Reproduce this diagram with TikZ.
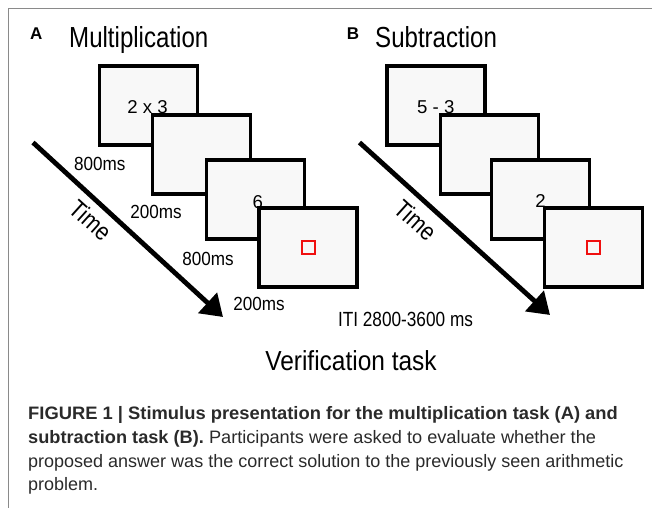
\documentclass[tikz,border=0pt]{standalone}
\usepackage{fontspec}
\setmainfont{Liberation Sans}
\usetikzlibrary{arrows.meta}
\definecolor{screenfill}{HTML}{F8F8F8}
\definecolor{framegray}{HTML}{8A8A8A}
\definecolor{captext}{HTML}{2A2A2A}
\definecolor{cuered}{HTML}{F01010}
\newcommand{\hsq}[2]{\scalebox{#1}[1]{#2}}
\begin{document}
\begin{tikzpicture}[x=1pt,y=-1pt,
  screen/.style={draw=black,line width=3.5pt,fill=screenfill,minimum width=98pt,minimum height=79pt,inner sep=0pt},
  cue/.style={draw=cuered,line width=1.8pt,minimum size=13pt,inner sep=0pt},
  stim/.style={font=\fontsize{18.6}{20}\selectfont,anchor=base,inner sep=0pt},
  dur/.style={font=\fontsize{19}{20}\selectfont,anchor=base,inner sep=0pt},
  panel/.style={font=\fontsize{17}{18}\selectfont\bfseries,anchor=base west,inner sep=0pt},
  task/.style={font=\fontsize{29}{30}\selectfont,anchor=base west,inner sep=0pt},
  timelabel/.style={font=\fontsize{25}{26}\selectfont,rotate=-42,inner sep=0pt},
  timearrow/.style={line width=4.8pt,-{Triangle[length=21pt,width=27pt]}},
  caption/.style={font=\fontsize{18}{19}\selectfont,anchor=base west,inner sep=0pt,text=captext},
]
\useasboundingbox (0,0) rectangle (652,508);
% frame lines along the top and left edge
\draw[framegray,line width=1pt] (652,8.5) -- (8.5,8.5) -- (8.5,508);

% ---------- panel A: multiplication ----------
\node[panel] (pa) at (30,39.5) {A};
\node[task] (ta) at (69,47.5) {\hsq{0.83}{Multiplication}};

\node[screen] (a1) at (148.5,105.5) {};
\node[stim] (a1t) at (147.5,113.5) {2 x 3};
\node[screen] (a2) at (201.3,154.5) {};
\node[screen] (a3) at (255.3,199.5) {};
\node[stim] (a3t) at (257.8,208) {6};
\node[screen] (a4) at (308.1,247.5) {};
\node[cue] (a4c) at (a4.center) {};

\node[dur] (ad1) at (99.7,170) {\hsq{0.9}{800ms}};
\node[dur] (ad2) at (156,218.3) {\hsq{0.9}{200ms}};
\node[dur] (ad3) at (208,265) {\hsq{0.9}{800ms}};
\node[dur] (ad4) at (259,310) {\hsq{0.9}{200ms}};

\coordinate (aT0) at (33,142.5);
\coordinate (aT1) at (223,317);
\draw[timearrow] (aT0) -- (aT1);
\node[timelabel] (atime) at (91,220) {\hsq{0.85}{Time}};

% ---------- panel B: subtraction ----------
\node[panel] (pb) at (346.7,39.5) {B};
\node[task] (tb) at (375,47.5) {\hsq{0.83}{Subtraction}};

\node[screen] (b1) at (435.8,105.5) {};
\node[stim] (b1t) at (435.8,113.5) {5 - 3};
\node[screen] (b2) at (489.5,154.5) {};
\node[screen] (b3) at (540.3,199.5) {};
\node[stim] (b3t) at (540.5,207.5) {2};
\node[screen] (b4) at (593.7,247.5) {};
\node[cue] (b4c) at (b4.center) {};

\coordinate (bT0) at (359.5,142.5);
\coordinate (bT1) at (550,315);
\draw[timearrow] (bT0) -- (bT1);
\node[timelabel] (btime) at (416,220) {\hsq{0.85}{Time}};

% ---------- shared labels ----------
\node[font=\fontsize{20.5}{22}\selectfont,anchor=base,inner sep=0pt] (iti) at (405.5,326) {\hsq{0.84}{ITI 2800-3600 ms}};
\node[font=\fontsize{27.5}{30}\selectfont,anchor=base,inner sep=0pt] (verif) at (351,370) {\hsq{0.89}{Verification task}};

% ---------- caption ----------
\node[caption] (c1) at (28,419.3) {\hsq{1.02}{\textbf{FIGURE 1 | Stimulus presentation for the multiplication task (A) and}}};
\node[caption] (c2) at (28,443.5) {\hsq{1.01}{\textbf{subtraction task (B).} Participants were asked to evaluate whether the}};
\node[caption] (c3) at (28,467) {proposed answer was the correct solution to the previously seen arithmetic};
\node[caption] (c4) at (28,490) {problem.};
\end{tikzpicture}
\end{document}
